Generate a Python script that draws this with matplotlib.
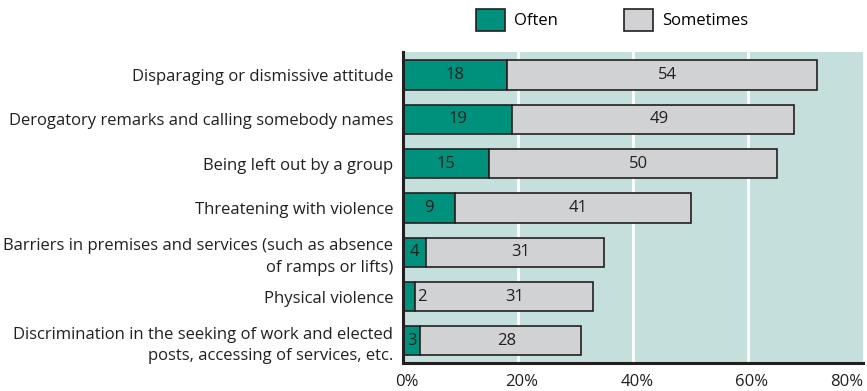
import matplotlib
matplotlib.use('Agg')
import matplotlib.pyplot as plt
from matplotlib.patches import Patch
from matplotlib.transforms import ScaledTranslation
import numpy as np

# data (percent)
categories = [
    'Disparaging or dismissive attitude',
    'Derogatory remarks and calling somebody names',
    'Being left out by a group',
    'Threatening with violence',
    'Barriers in premises and services (such as absence\nof ramps or lifts)',
    'Physical violence',
    'Discrimination in the seeking of work and elected\nposts, accessing of services, etc.',
]
often = [18, 19, 15, 9, 4, 2, 3]
sometimes = [54, 49, 50, 41, 31, 31, 28]
series_names = ['Often', 'Sometimes']
xticks = [0, 20, 40, 60, 80]
xtick_labels = ['0%', '20%', '40%', '60%', '80%']

plt.rcParams['font.family'] = ['Open Sans', 'DejaVu Sans']

green = '#00917c'
grey = '#d1d2d4'
bg = '#c5e0dc'
edge = '#231f20'
txt = '#231f20'

fig = plt.figure(figsize=(8.67, 3.91), dpi=100)
ax = fig.add_axes([403 / 867, 28 / 391, 460 / 867, 311 / 391])
ax.set_facecolor(bg)

y = np.arange(len(categories))
h = 0.66
ax.barh(y, often, height=h, color=green, edgecolor=edge, linewidth=1.2, zorder=3)
ax.barh(y, sometimes, left=often, height=h, color=grey, edgecolor=edge, linewidth=1.2, zorder=3)

# value labels
for i in range(len(categories)):
    o, s = often[i], sometimes[i]
    if o < 3:
        ax.text(o + 0.4, i, str(o), ha='left', va='center', fontsize=12, color=txt, zorder=4)
        ax.text(o + s / 2 + 2, i, str(s), ha='center', va='center', fontsize=12, color=txt, zorder=4)
    else:
        ax.text(o / 2, i, str(o), ha='center', va='center', fontsize=12, color=txt, zorder=4)
        ax.text(o + s / 2 + 1, i, str(s), ha='center', va='center', fontsize=12, color=txt, zorder=4)

ax.set_xlim(0, 80)
ax.set_ylim(len(categories) - 0.5, -0.52)

# white vertical gridlines
for gx in xticks[1:-1]:
    ax.axvline(gx, color='white', linewidth=2, zorder=1)

ax.set_xticks(xticks)
ax.set_xticklabels(xtick_labels, fontsize=12, color=txt)
ax.tick_params(axis='x', length=0, pad=8)
# labels sit a few px right of the gridlines, last one kept inside the figure
shift = ScaledTranslation(4 / 100, 0, fig.dpi_scale_trans)
for lbl in ax.get_xticklabels()[:-1]:
    lbl.set_transform(lbl.get_transform() + shift)
ax.get_xticklabels()[-1].set_horizontalalignment('right')

ax.set_yticks(y)
ax.set_yticklabels(categories, fontsize=12, color=txt, linespacing=1.45)
ax.tick_params(axis='y', length=0, pad=7)

for side in ['top', 'right']:
    ax.spines[side].set_visible(False)
for side in ['left', 'bottom']:
    ax.spines[side].set_color(edge)
    ax.spines[side].set_linewidth(2.2)
    ax.spines[side].set_zorder(5)

handles = [Patch(facecolor=green, edgecolor=edge, linewidth=1.2),
           Patch(facecolor=grey, edgecolor=edge, linewidth=1.2)]
fig.legend(handles, series_names, loc='center', bbox_to_anchor=(612 / 867, 1 - 20 / 391),
           ncol=2, frameon=False, fontsize=12, handlelength=1.75, handleheight=1.65,
           handletextpad=0.5, columnspacing=4.0)

fig.savefig('out.png', dpi=100)
